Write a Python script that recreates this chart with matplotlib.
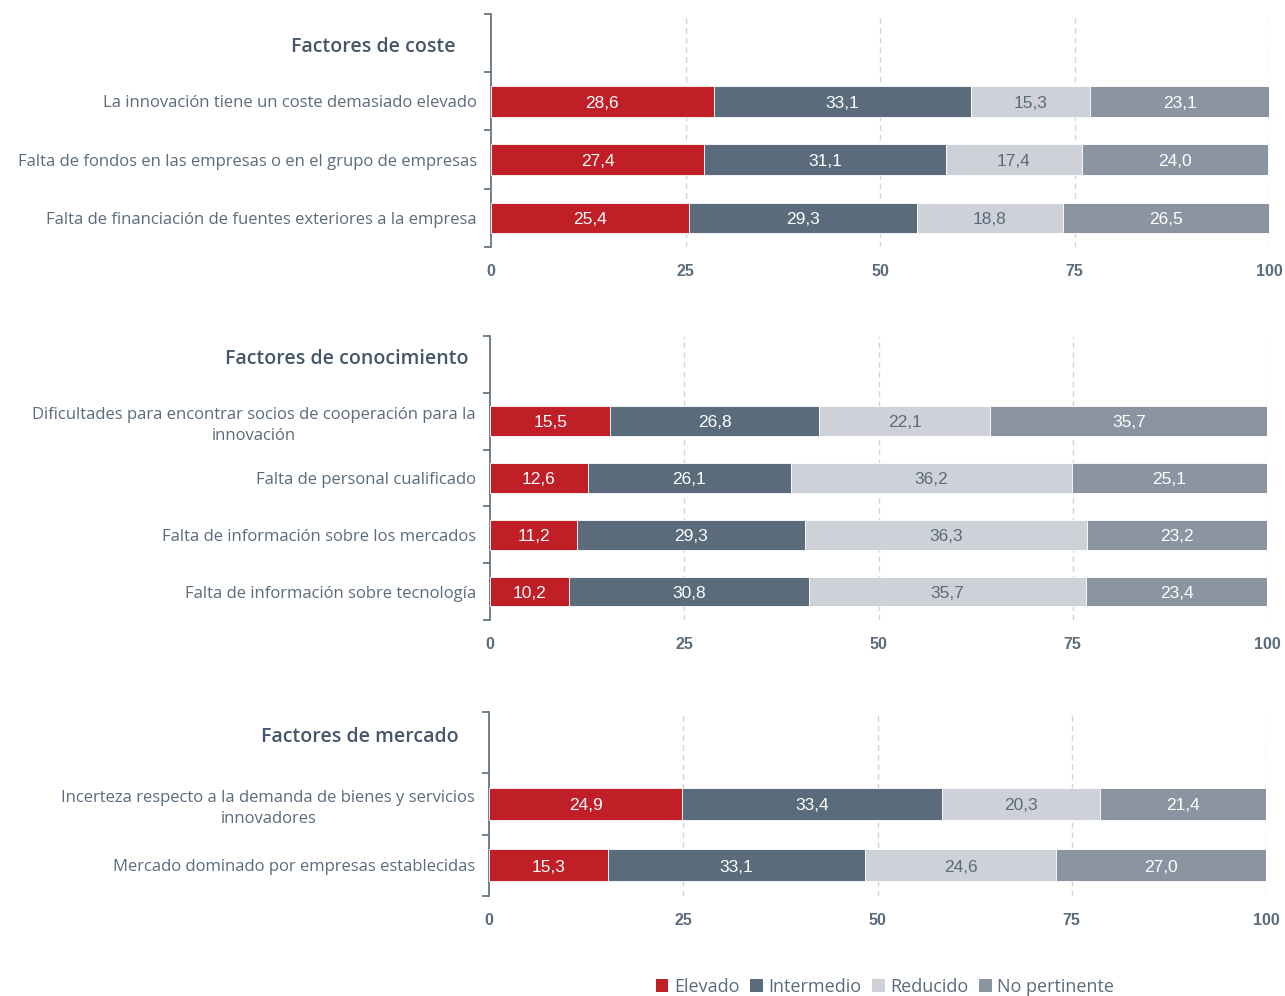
import numpy as np
import matplotlib.pyplot as plt
from matplotlib.patches import Patch

# Obstáculos a la innovación: porcentaje de empresas por grado de importancia
series = ["Elevado", "Intermedio", "Reducido", "No pertinente"]
colors = ["#c11f27", "#5a6b7c", "#ced1d7", "#8a95a1"]
text_colors = ["white", "white", "#5a6b7c", "white"]

coste_labels = [
    "La innovación tiene un coste demasiado elevado",
    "Falta de fondos en las empresas o en el grupo de empresas",
    "Falta de financiación de fuentes exteriores a la empresa",
]
coste_values = [
    [28.6, 33.1, 15.3, 23.1],
    [27.4, 31.1, 17.4, 24.0],
    [25.4, 29.3, 18.8, 26.5],
]

conoc_labels = [
    "Dificultades para encontrar socios de cooperación para la\ninnovación",
    "Falta de personal cualificado",
    "Falta de información sobre los mercados",
    "Falta de información sobre tecnología",
]
conoc_values = [
    [15.5, 26.8, 22.1, 35.7],
    [12.6, 26.1, 36.2, 25.1],
    [11.2, 29.3, 36.3, 23.2],
    [10.2, 30.8, 35.7, 23.4],
]

mercado_labels = [
    "Incerteza respecto a la demanda de bienes y servicios\ninnovadores",
    "Mercado dominado por empresas establecidas",
]
mercado_values = [
    [24.9, 33.4, 20.3, 21.4],
    [15.3, 33.1, 24.6, 27.0],
]

TXT = "#5a6b7c"
TITLE = "#46566a"
W, H = 1285, 996

fig = plt.figure(figsize=(W / 100, H / 100), dpi=100)


def panel(rect_px, title, labels, values, title_gap, title_dy):
    x0, y0, x1, y1 = rect_px
    ax = fig.add_axes([x0 / W, 1 - y1 / H, (x1 - x0) / W, (y1 - y0) / H])
    n = len(labels)
    vals = np.array(values)
    ypos = np.arange(1, n + 1)
    left = np.zeros(n)
    for j, name in enumerate(series):
        ax.barh(ypos, vals[:, j], left=left, height=0.52, color=colors[j],
                edgecolor="white", linewidth=0.6, zorder=3)
        for i in range(n):
            ax.text(left[i] + vals[i, j] / 2, ypos[i] + 0.03,
                    f"{vals[i, j]:.1f}".replace(".", ","),
                    ha="center", va="center", color=text_colors[j],
                    fontsize=12.5, family="Liberation Sans", zorder=4)
        left += vals[:, j]

    ax.set_xlim(0, 100)
    ax.set_ylim(n + 0.5, -0.5)
    ax.set_xticks([0, 25, 50, 75, 100])
    ax.tick_params(axis="x", length=0, pad=12, labelcolor=TXT, labelsize=11.5)
    for lab in ax.get_xticklabels():
        lab.set_family("Liberation Sans")
        lab.set_fontweight("bold")
    for x in [25, 50, 75, 100]:
        ax.axvline(x, color="#d5d5d5", linestyle=(0, (4, 3)), linewidth=1, zorder=1)

    # slot boundaries carry the tick marks, labels sit at slot centres
    ax.set_yticks(np.arange(-0.5, n + 1, 1.0))
    ax.set_yticklabels([])
    ax.tick_params(axis="y", which="major", length=5, width=1.2, color="#5a6b7c")
    ax.set_yticks(ypos, minor=True)
    ax.set_yticklabels(labels, minor=True, multialignment="center", linespacing=1.4)
    ax.tick_params(axis="y", which="minor", length=0, pad=10,
                   labelcolor=TXT, labelsize=12)
    for lab in ax.get_yticklabels(minor=True):
        lab.set_family("Open Sans")

    for s in ["top", "right", "bottom"]:
        ax.spines[s].set_visible(False)
    ax.spines["left"].set_color("#5a6b7c")
    ax.spines["left"].set_linewidth(1.2)

    ax.text(-title_gap / (x1 - x0), title_dy, title, transform=ax.get_yaxis_transform(),
            ha="right", va="center", fontsize=14, color=TITLE,
            family="Open Sans", fontweight="semibold")
    return ax


panel((491, 14, 1269, 247), "Factores de coste", coste_labels, coste_values, 35, 0.07)
panel((490, 336, 1267, 620), "Factores de conocimiento", conoc_labels, conoc_values, 21, -0.09)
panel((489, 712, 1266, 896), "Factores de mercado", mercado_labels, mercado_values, 30, -0.1)

handles = [Patch(facecolor=c, edgecolor="none") for c in colors]
leg = fig.legend(handles, series, loc="center", bbox_to_anchor=(885 / W, 1 - 987 / H),
                 ncol=4, frameon=False, handlelength=0.7, handleheight=0.7,
                 handletextpad=0.3, columnspacing=0.6,
                 prop={"family": "Open Sans", "size": 13})
for t in leg.get_texts():
    t.set_color(TXT)

fig.savefig("out.png", dpi=100, facecolor="white")
